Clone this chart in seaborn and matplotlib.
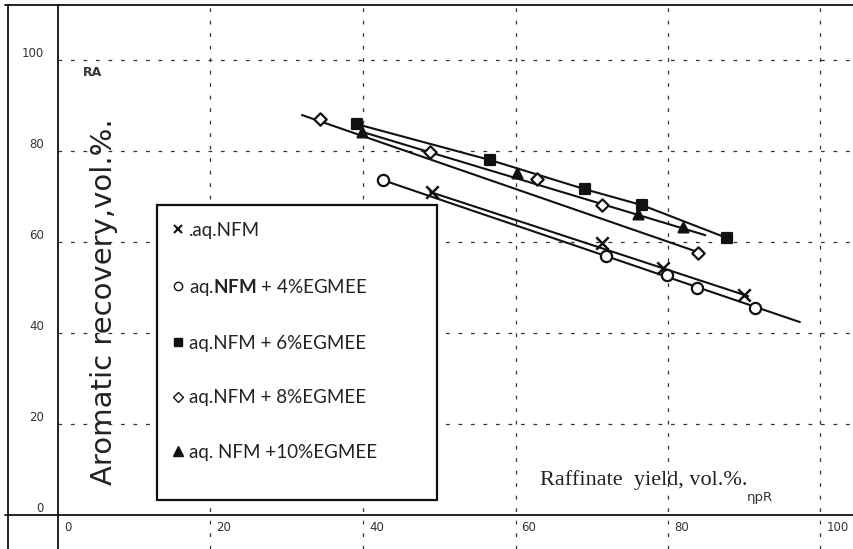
import numpy as np
import pandas as pd
import matplotlib
matplotlib.use("Agg")
import matplotlib.pyplot as plt
import matplotlib.transforms as mtransforms
from matplotlib.lines import Line2D
from matplotlib.patches import Rectangle
import seaborn as sns

# --- data (raffinate yield vs aromatic recovery) ---
nfm_x = [49.0, 71.3, 79.3, 90.0]
nfm_y = [71.0, 59.8, 54.3, 48.4]
nfm_line_x = [48.8, 90.5]
nfm_line_y = [71.0, 48.1]

egm4_x = [42.6, 71.9, 79.9, 83.8, 91.4]
egm4_y = [73.6, 56.9, 52.7, 49.9, 45.5]
egm4_line_x = [42.6, 97.3]
egm4_line_y = [73.6, 42.4]

egm6_x = [39.2, 56.7, 69.1, 76.6, 87.7]
egm6_y = [85.9, 78.0, 71.6, 68.1, 60.9]
egm6_line_x = egm6_x
egm6_line_y = egm6_y

egm8_x = [34.4, 48.8, 62.8, 71.3, 83.9]
egm8_y = [87.0, 79.8, 73.8, 68.1, 57.6]
egm8_line_x = [32.0, 83.9]
egm8_line_y = [87.9, 57.8]

egm10_x = [39.9, 60.2, 76.1, 82.0]
egm10_y = [84.2, 75.2, 66.2, 63.3]
egm10_line_x = [39.9, 84.9]
egm10_line_y = [84.2, 61.5]

x_ticks = [0, 20, 40, 60, 80, 100]
y_ticks = [0, 20, 40, 60, 80, 100]

legend_labels = [
    ".aq.NFM",
    "aq.$\\mathbf{NFM}$ + 4%EGMEE",
    "aq.NFM + 6%EGMEE",
    "aq.NFM + 8%EGMEE",
    "aq. NFM +10%EGMEE",
]

sns.set_theme(style="white")
plt.rcParams["font.family"] = ["Lato", "DejaVu Sans"]
plt.rcParams["mathtext.fontset"] = "custom"
plt.rcParams["mathtext.rm"] = "Lato"
plt.rcParams["mathtext.bf"] = "Lato:bold"

W, H = 854, 549
fig = plt.figure(figsize=(W / 100, H / 100), dpi=100)
fig.patch.set_facecolor("white")


def fx(px):
    return px / W


def fy(py):
    return 1 - py / H


ax = fig.add_axes([fx(58), 34 / H, (W - 58) / W, 510 / H])
ax.set_facecolor("white")
ax.set_xlim(0, 796 / 7.625)
ax.set_ylim(0, 510 / 4.55)

ink = "#111111"
grid_kw = dict(color="#333333", lw=0.9, ls=(0, (3, 7)), zorder=0)

# dashed grid, vertical lines run down past the x axis
for t in x_ticks[1:]:
    ax.axvline(t, ymin=-34 / 510, ymax=1, clip_on=False, **grid_kw)
for t in y_ticks[1:]:
    ax.axhline(t, **grid_kw)

series = [
    ("nfm", nfm_x, nfm_y, nfm_line_x, nfm_line_y, "x", ink, 80),
    ("egm4", egm4_x, egm4_y, egm4_line_x, egm4_line_y, "o", "white", 65),
    ("egm6", egm6_x, egm6_y, egm6_line_x, egm6_line_y, "s", ink, 45),
    ("egm8", egm8_x, egm8_y, egm8_line_x, egm8_line_y, "D", "white", 40),
    ("egm10", egm10_x, egm10_y, egm10_line_x, egm10_line_y, "^", ink, 50),
]

for name, xs, ys, lx, ly, mk, face, size in series:
    line_df = pd.DataFrame({"x": lx, "y": ly})
    sns.lineplot(data=line_df, x="x", y="y", ax=ax, color=ink, lw=1.5,
                 sort=False, estimator=None, zorder=2)
    pts = pd.DataFrame({"x": xs, "y": ys})
    if mk == "x":
        sns.scatterplot(data=pts, x="x", y="y", ax=ax, marker="x", s=size,
                        color=ink, linewidth=1.8, zorder=3)
    else:
        sns.scatterplot(data=pts, x="x", y="y", ax=ax, marker=mk, s=size,
                        facecolor=face, edgecolor=ink, linewidth=1.6, zorder=3)

# axes frame: left and bottom lines only, plus the top border
ax.spines["right"].set_visible(False)
for side in ["left", "bottom", "top"]:
    ax.spines[side].set_color(ink)
    ax.spines[side].set_linewidth(1.3)

# table-like outer rules from the scan
rule = dict(color=ink, lw=1.3, transform=fig.transFigure, clip_on=False)
fig.add_artist(Line2D([fx(5), fx(58)], [fy(515), fy(515)], **rule))
fig.add_artist(Line2D([fx(58), fx(58)], [fy(515), fy(549)], **rule))
fig.add_artist(Line2D([fx(8), fx(8)], [fy(5), fy(549)], **rule))
fig.add_artist(Line2D([fx(5), fx(58)], [fy(5), fy(5)], **rule))

ax.set_xticks(x_ticks)
ax.set_yticks(y_ticks)
ax.set_xticklabels([str(t) for t in x_ticks])
ax.set_yticklabels([str(t) for t in y_ticks])
ax.tick_params(axis="x", length=0, pad=4, labelsize=8.5, labelcolor="#333333")
ax.tick_params(axis="y", length=9, width=1, color=ink, direction="out",
               pad=1, labelsize=8.5, labelcolor="#333333")
for lab in ax.get_xticklabels():
    lab.set_fontfamily("DejaVu Sans")
    lab.set_horizontalalignment("left")
    lab.set_transform(lab.get_transform() +
                      mtransforms.ScaledTranslation(6 / 100, 0, fig.dpi_scale_trans))
for lab in ax.get_yticklabels():
    lab.set_fontfamily("DejaVu Sans")
    lab.set_verticalalignment("bottom")
ax.set_xlabel("")
ax.set_ylabel("")

# axis titles drawn inside the frame as in the original
ax.text(fx(104), fy(302), "Aromatic recovery,vol.%.", transform=fig.transFigure,
        rotation=90, ha="center", va="center", fontsize=21, color="#222222",
        fontfamily="DejaVu Sans")
ax.text(fx(540), fy(480), "Raffinate  yield, vol.%.", transform=fig.transFigure,
        ha="left", va="center", fontsize=16, color="#222222",
        fontfamily="Liberation Serif")
ax.text(fx(83), fy(73), "RA", transform=fig.transFigure, ha="left", va="center",
        fontsize=9, fontweight="bold", color="#333333", fontfamily="DejaVu Sans")
ax.text(fx(747), fy(498), "ηpR", transform=fig.transFigure, ha="left", va="center",
        fontsize=9.5, color="#333333", fontfamily="DejaVu Sans")

# legend box drawn as a plain rectangle, entries placed inside it
box = Rectangle((fx(157), fy(500)), fx(280), 295 / H, transform=fig.transFigure,
                facecolor="white", edgecolor=ink, lw=1.6, zorder=4, clip_on=False)
ax.add_patch(box)

handles = [
    Line2D([], [], ls="none", marker="x", ms=5.5, mew=1.5, color=ink),
    Line2D([], [], ls="none", marker="o", ms=6, mew=1.0, mfc="white", mec=ink),
    Line2D([], [], ls="none", marker="s", ms=6, mfc=ink, mec=ink),
    Line2D([], [], ls="none", marker="D", ms=5, mew=1.0, mfc="white", mec=ink),
    Line2D([], [], ls="none", marker="^", ms=7, mfc=ink, mec=ink),
]
leg = ax.legend(handles, legend_labels, loc="upper left",
                bbox_to_anchor=(fx(172), fy(222)),
                bbox_transform=fig.transFigure,
                fontsize=13.5, frameon=False,
                labelspacing=2.0, borderpad=0, handlelength=0.6,
                handletextpad=0.3, borderaxespad=0)
leg.set_zorder(5)
for t in leg.get_texts():
    t.set_color("#222222")

fig.savefig("out.png", dpi=100)
